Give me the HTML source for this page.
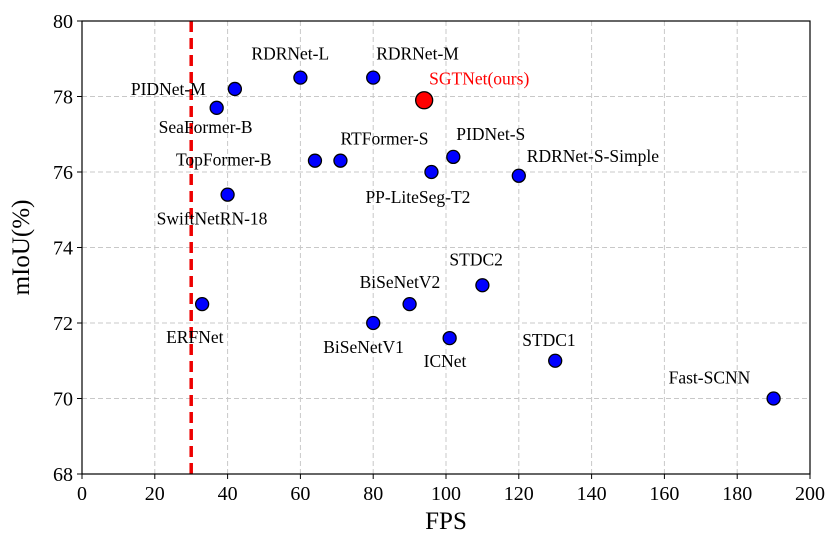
<!DOCTYPE html>
<html><head><meta charset="utf-8"><style>
body{margin:0;background:#fff}
svg text{font-family:"Liberation Serif",serif}
</style></head><body>
<svg id="chart" width="834" height="555" viewBox="0 0 834 555" xmlns="http://www.w3.org/2000/svg"></svg>
<script>
const names=["ERFNet","SwiftNetRN-18","SeaFormer-B","PIDNet-M","RDRNet-L","RDRNet-M","SGTNet(ours)","TopFormer-B","RTFormer-S","PP-LiteSeg-T2","PIDNet-S","RDRNet-S-Simple","BiSeNetV2","BiSeNetV1","STDC2","ICNet","STDC1","Fast-SCNN"];
const fps=[33,40,37,42,60,80,94,64,71,96,102,120,90,80,110,101,130,190];
const miou=[72.5,75.4,77.7,78.2,78.5,78.5,77.9,76.3,76.3,76.0,76.4,75.9,72.5,72.0,73.0,71.6,71.0,70.0];
const xTicks=[0,20,40,60,80,100,120,140,160,180,200];
const yTicks=[68,70,72,74,76,78,80];
const realtimeFps=30;
// label offsets (px) relative to marker
const ldx=[-36,-71,-58,-104,-49,3,5,-139,0,-66,3,8,-50,-50,-33,-26,-33,-105];
const ldy=[39,30,25,6,-18,-18,-16,5,-16,31,-17,-14,-16,30,-20,29,-15,-15];

const NS="http://www.w3.org/2000/svg";
const svg=document.getElementById('chart');
const L=82,R=810,T=21,B=474;
const xs=v=>L+(v-0)/(200-0)*(R-L);
const ys=v=>B-(v-68)/(80-68)*(B-T);
function mk(tag,attrs,parent){const e=document.createElementNS(NS,tag);for(const k in attrs)e.setAttribute(k,attrs[k]);(parent||svg).appendChild(e);return e;}

xTicks.forEach(t=>{
  const g=mk('line',{x1:xs(t),x2:xs(t),y1:T,y2:B,stroke:'#c8c8c8','stroke-dasharray':'5,3','stroke-width':1});
  
  
  const tk=mk('line',{x1:xs(t),x2:xs(t),y1:B,y2:B+5,stroke:'#000'});
  
  
  const tx=mk('text',{x:xs(t),y:B+26,'text-anchor':'middle','font-size':20});
  tx.textContent=t;
  
  
});
yTicks.forEach(t=>{
  const g=mk('line',{x1:L,x2:R,y1:ys(t),y2:ys(t),stroke:'#c8c8c8','stroke-dasharray':'5,3','stroke-width':1});
  
  
  const tk=mk('line',{x1:L-5,x2:L,y1:ys(t),y2:ys(t),stroke:'#000'});
  
  
  const tx=mk('text',{x:L-9,y:ys(t)+7,'text-anchor':'end','font-size':20});
  tx.textContent=t;
  
  
});
const rl=mk('line',{x1:xs(realtimeFps),x2:xs(realtimeFps),y1:T,y2:B,stroke:'#ee0000','stroke-width':3.5,'stroke-dasharray':'11,6'});



names.forEach((n,i)=>{
  const ours=n==='SGTNet(ours)';
  const c=mk('circle',{cx:xs(fps[i]),cy:ys(miou[i]),r:ours?8.5:6.5,fill:ours?'#ff0000':'#0000ff',stroke:'#000','stroke-width':1.3});
  
  
  const t=mk('text',{x:xs(fps[i])+ldx[i],y:ys(miou[i])+ldy[i],'font-size':17.5,fill:ours?'#ff0000':'#000'});
  t.textContent=n;
  
  
});

const fr=mk('rect',{x:L,y:T,width:R-L,height:B-T,fill:'none',stroke:'#000','stroke-width':1.2});


const xt=mk('text',{x:(L+R)/2,y:B+55,'text-anchor':'middle','font-size':25});
xt.textContent='FPS';


const yt=mk('text',{x:0,y:0,'text-anchor':'middle','font-size':25,transform:'translate(29,'+((T+B)/2)+') rotate(-90)'});
yt.textContent='mIoU(%)';


</script>
</body></html>
